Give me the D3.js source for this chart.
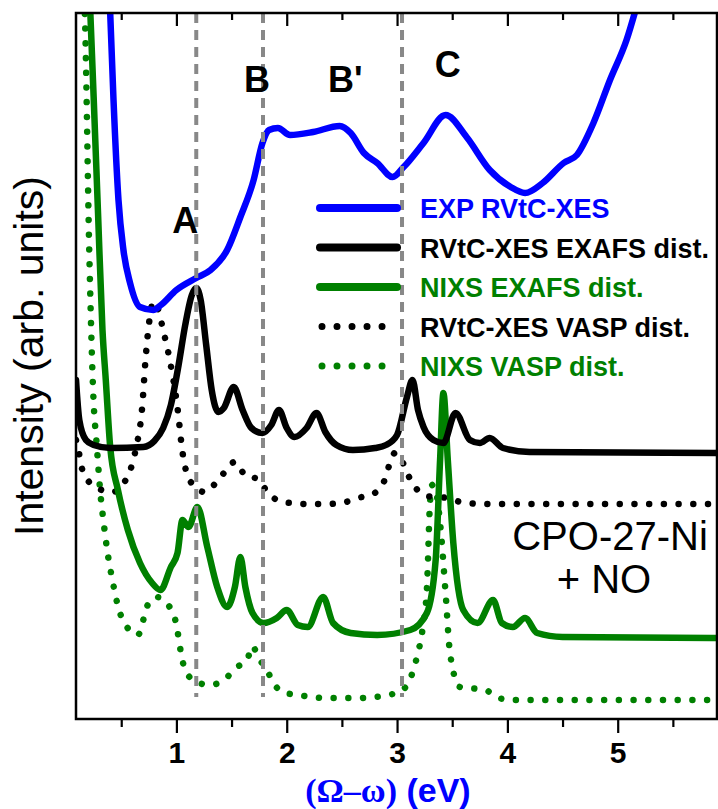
<!DOCTYPE html>
<html>
<head>
<meta charset="utf-8">
<script src="https://cdn.jsdelivr.net/npm/d3@7"></script>
<style>
  body { margin: 0; background: #fff; }
  svg { display: block; font-family: "Liberation Sans", Arial, sans-serif; }
</style>
</head>
<body>
<svg id="chart" width="718" height="809"></svg>
<script>
// energy loss (eV) and intensity (arb. units)
const expE = [0.38, 0.40, 0.43, 0.475, 0.52, 0.58, 0.67, 0.79, 0.86, 1.0, 1.18, 1.31, 1.46, 1.58, 1.70, 1.78, 1.84, 1.92, 2.03, 2.24, 2.48, 2.58, 2.70, 2.82, 2.96, 3.06, 3.24, 3.44, 3.63, 3.84, 4.03, 4.16, 4.32, 4.51, 4.63, 4.78, 4.93, 5.08, 5.20];
const expI = [7.79, 7.06, 6.19, 5.19, 4.69, 4.36, 4.12, 4.09, 4.14, 4.29, 4.41, 4.49, 4.69, 5.02, 5.39, 5.76, 5.89, 5.91, 5.84, 5.87, 5.93, 5.86, 5.66, 5.56, 5.42, 5.52, 5.76, 6.04, 5.82, 5.49, 5.32, 5.26, 5.36, 5.56, 5.64, 5.96, 6.39, 6.79, 7.24];

const xesExafsE = [0.09, 0.12, 0.18, 0.25, 0.40, 0.70, 0.80, 0.88, 0.95, 1.02, 1.08, 1.14, 1.18, 1.22, 1.27, 1.32, 1.38, 1.43, 1.52, 1.60, 1.68, 1.78, 1.86, 1.93, 2.00, 2.07, 2.18, 2.27, 2.35, 2.45, 2.60, 2.80, 2.90, 3.00, 3.09, 3.14, 3.19, 3.24, 3.33, 3.42, 3.53, 3.66, 3.75, 3.84, 3.96, 4.20, 5.90];
const xesExafsI = [3.39, 2.99, 2.79, 2.74, 2.71, 2.72, 2.78, 2.91, 3.14, 3.54, 3.94, 4.24, 4.31, 4.19, 3.74, 3.29, 3.07, 3.11, 3.32, 3.09, 2.91, 2.86, 2.94, 3.09, 2.91, 2.82, 2.91, 3.06, 2.87, 2.74, 2.69, 2.71, 2.74, 2.84, 3.22, 3.39, 3.09, 2.92, 2.79, 2.76, 3.06, 2.79, 2.76, 2.81, 2.71, 2.67, 2.66];

const nixsExafsE = [0.20, 0.22, 0.25, 0.29, 0.33, 0.36, 0.40, 0.47, 0.56, 0.67, 0.78, 0.855, 0.95, 1.01, 1.055, 1.11, 1.19, 1.28, 1.37, 1.46, 1.53, 1.58, 1.625, 1.69, 1.79, 1.91, 2.00, 2.10, 2.19, 2.33, 2.42, 2.58, 2.82, 3.12, 3.27, 3.35, 3.39, 3.42, 3.46, 3.51, 3.60, 3.73, 3.87, 3.95, 4.05, 4.16, 4.27, 4.50, 5.90];
const nixsExafsI = [7.59, 7.06, 6.22, 5.05, 3.89, 3.39, 2.72, 2.29, 1.89, 1.56, 1.36, 1.29, 1.52, 1.66, 1.99, 1.92, 2.12, 1.72, 1.32, 1.12, 1.32, 1.62, 1.32, 1.06, 0.96, 1.01, 1.09, 0.94, 0.92, 1.22, 0.96, 0.86, 0.84, 0.89, 1.06, 1.59, 2.59, 3.26, 2.59, 1.76, 1.09, 0.96, 1.19, 0.96, 0.92, 1.01, 0.86, 0.82, 0.81];

const xesVaspE = [0.09, 0.11, 0.13, 0.18, 0.28, 0.42, 0.54, 0.63, 0.69, 0.72, 0.75, 0.79, 0.83, 0.88, 0.94, 1.01, 1.055, 1.13, 1.26, 1.38, 1.53, 1.63, 1.74, 1.83, 1.97, 2.17, 2.37, 2.50, 2.64, 2.78, 2.88, 2.93, 2.98, 3.04, 3.10, 3.17, 3.27, 3.45, 3.62, 3.85, 5.90];
const xesVaspI = [2.79, 2.71, 2.57, 2.42, 2.31, 2.27, 2.39, 2.69, 3.12, 3.59, 3.94, 4.17, 4.11, 3.89, 3.59, 3.11, 2.67, 2.37, 2.27, 2.39, 2.57, 2.43, 2.40, 2.26, 2.17, 2.15, 2.15, 2.16, 2.21, 2.25, 2.37, 2.54, 2.66, 2.59, 2.44, 2.31, 2.23, 2.21, 2.16, 2.15, 2.15];

const nixsVaspE = [0.15, 0.17, 0.21, 0.245, 0.28, 0.31, 0.34, 0.375, 0.42, 0.48, 0.54, 0.65, 0.74, 0.82, 0.89, 0.99, 1.06, 1.15, 1.30, 1.43, 1.55, 1.64, 1.69, 1.74, 1.82, 1.88, 1.96, 2.10, 2.37, 2.64, 2.92, 3.06, 3.18, 3.23, 3.27, 3.30, 3.32, 3.35, 3.39, 3.44, 3.48, 3.57, 3.80, 3.92, 4.05, 5.90];
const nixsVaspI = [7.49, 7.06, 4.69, 3.29, 2.71, 2.27, 1.97, 1.67, 1.39, 1.09, 0.94, 0.84, 1.14, 1.22, 1.18, 0.99, 0.56, 0.39, 0.34, 0.39, 0.52, 0.59, 0.73, 0.62, 0.49, 0.36, 0.27, 0.24, 0.21, 0.21, 0.24, 0.30, 0.62, 0.89, 1.29, 2.19, 2.34, 2.29, 1.96, 1.26, 0.66, 0.32, 0.29, 0.21, 0.19, 0.19];

const featureE = [1.18, 1.785, 3.045];
const xTicks = [1, 2, 3, 4, 5];
const xMinor = [0.5, 1.5, 2.5, 3.5, 4.5, 5.5];

const blue = '#0000ff', green = '#008000', grey = '#888888';

const svg = d3.select('#chart');
const plotLeft = 76, plotRight = 717, plotTop = 13, plotBottom = 719;

const x = d3.scaleLinear().domain([0.09, 5.9]).range([plotLeft, plotRight]);
const y = d3.scaleLinear().domain([0, 7.06]).range([plotBottom, plotTop]);

svg.append('clipPath').attr('id', 'plot-clip')
  .append('rect')
  .attr('x', plotLeft).attr('y', plotTop)
  .attr('width', plotRight - plotLeft).attr('height', plotBottom - plotTop);

const line = d3.line()
  .x(d => x(d[0]))
  .y(d => y(d[1]))
  .curve(d3.curveMonotoneX);

const series = [
  {E: nixsVaspE, I: nixsVaspI, color: green, dotted: true},
  {E: xesVaspE, I: xesVaspI, color: '#000', dotted: true},
  {E: nixsExafsE, I: nixsExafsI, color: green, dotted: false},
  {E: xesExafsE, I: xesExafsI, color: '#000', dotted: false},
  {E: expE, I: expI, color: blue, dotted: false}
];

const curves = svg.append('g').attr('clip-path', 'url(#plot-clip)');
series.forEach(s => {
  curves.append('path')
    .datum(d3.zip(s.E, s.I))
    .attr('d', line)
    .attr('fill', 'none')
    .attr('stroke', s.color)
    .attr('stroke-width', 6.5)
    .attr('stroke-linecap', 'round')
    .attr('stroke-linejoin', 'round')
    .attr('stroke-dasharray', s.dotted ? '0.01 14.7' : null);
});

// feature markers
svg.append('g').selectAll('line')
  .data(featureE)
  .join('line')
  .attr('x1', d => x(d)).attr('x2', d => x(d))
  .attr('y1', y(7.06)).attr('y2', y(0.22))
  .attr('stroke', grey)
  .attr('stroke-width', 4)
  .attr('stroke-dasharray', '10 7');

// axes
const xAxis = svg.append('g').attr('transform', `translate(0,${plotBottom})`)
  .call(d3.axisBottom(x).tickValues(xTicks).tickSize(14).tickFormat(d3.format('d')));
xAxis.select('.domain').remove();
xAxis.selectAll('line').attr('stroke-width', 2.2);
xAxis.selectAll('text')
  .attr('y', 44).attr('dy', 0)
  .attr('font-size', 30).attr('font-weight', 'bold')
  .attr('font-family', '"Liberation Sans", Arial, sans-serif')
  .attr('fill', '#000');

const xMinorAxis = svg.append('g').attr('transform', `translate(0,${plotBottom})`)
  .call(d3.axisBottom(x).tickValues(xMinor).tickSize(8).tickFormat(''));
xMinorAxis.select('.domain').remove();
xMinorAxis.selectAll('line').attr('stroke-width', 2.2);

const topAxis = svg.append('g').attr('transform', `translate(0,${plotTop})`)
  .call(d3.axisTop(x).tickValues(xTicks).tickSize(-13).tickFormat(''));
topAxis.select('.domain').remove();
topAxis.selectAll('line').attr('stroke-width', 2.2);
const topMinor = svg.append('g').attr('transform', `translate(0,${plotTop})`)
  .call(d3.axisTop(x).tickValues(xMinor).tickSize(-7).tickFormat(''));
topMinor.select('.domain').remove();
topMinor.selectAll('line').attr('stroke-width', 2.2);

svg.append('rect')
  .attr('x', plotLeft).attr('y', plotTop)
  .attr('width', plotRight - plotLeft).attr('height', plotBottom - plotTop)
  .attr('fill', 'none').attr('stroke', '#000').attr('stroke-width', 2.5);

// axis titles
const xTitle = svg.append('text')
  .attr('x', 388).attr('y', 802)
  .attr('text-anchor', 'middle')
  .attr('fill', blue).attr('font-weight', 'bold').attr('font-size', 34);
xTitle.append('tspan').attr('font-family', '"Liberation Serif", "Times New Roman", serif').text('(Ω–ω)');
xTitle.append('tspan').text(' (eV)');

svg.append('text')
  .attr('transform', 'translate(43,356) rotate(-90)')
  .attr('text-anchor', 'middle')
  .attr('font-size', 41)
  .attr('fill', '#000')
  .text('Intensity (arb. units)');

// feature labels
const featureLabels = [
  {t: 'A', e: 1.08, v: 4.86},
  {t: 'B', e: 1.73, v: 6.27},
  {t: "B'", e: 2.53, v: 6.27},
  {t: 'C', e: 3.46, v: 6.42}
];
svg.append('g').selectAll('text')
  .data(featureLabels)
  .join('text')
  .attr('x', d => x(d.e))
  .attr('y', d => y(d.v))
  .attr('text-anchor', 'middle')
  .attr('font-size', 36).attr('font-weight', 'bold')
  .text(d => d.t);

// legend
const legendItems = [
  {label: 'EXP RVtC-XES', color: blue, dotted: false},
  {label: 'RVtC-XES EXAFS dist.', color: '#000', dotted: false},
  {label: 'NIXS EXAFS dist.', color: green, dotted: false},
  {label: 'RVtC-XES VASP dist.', color: '#000', dotted: true},
  {label: 'NIXS VASP dist.', color: green, dotted: true}
];
const legend = svg.append('g').attr('transform', 'translate(320,208)');
const row = legend.selectAll('g')
  .data(legendItems)
  .join('g')
  .attr('transform', (d, i) => `translate(0,${i * 39.5})`);
row.append('line')
  .attr('x1', d => d.dotted ? 2 : 0).attr('x2', d => d.dotted ? 62.5 : 77)
  .attr('stroke', d => d.color)
  .attr('stroke-width', d => d.dotted ? 7 : 8)
  .attr('stroke-linecap', 'round')
  .attr('stroke-dasharray', d => d.dotted ? '0.01 15' : null);
row.append('text')
  .attr('x', 100).attr('y', 10)
  .attr('font-size', 27).attr('font-weight', 'bold')
  .attr('fill', d => d.color)
  .text(d => d.label);

// sample annotation
const note = svg.append('text')
  .attr('text-anchor', 'middle')
  .attr('font-size', 40)
  .attr('fill', '#000');
note.append('tspan').attr('x', 610).attr('y', 550).text('CPO-27-Ni');
note.append('tspan').attr('x', 604).attr('y', 593).text('+ NO');
</script>
</body>
</html>
